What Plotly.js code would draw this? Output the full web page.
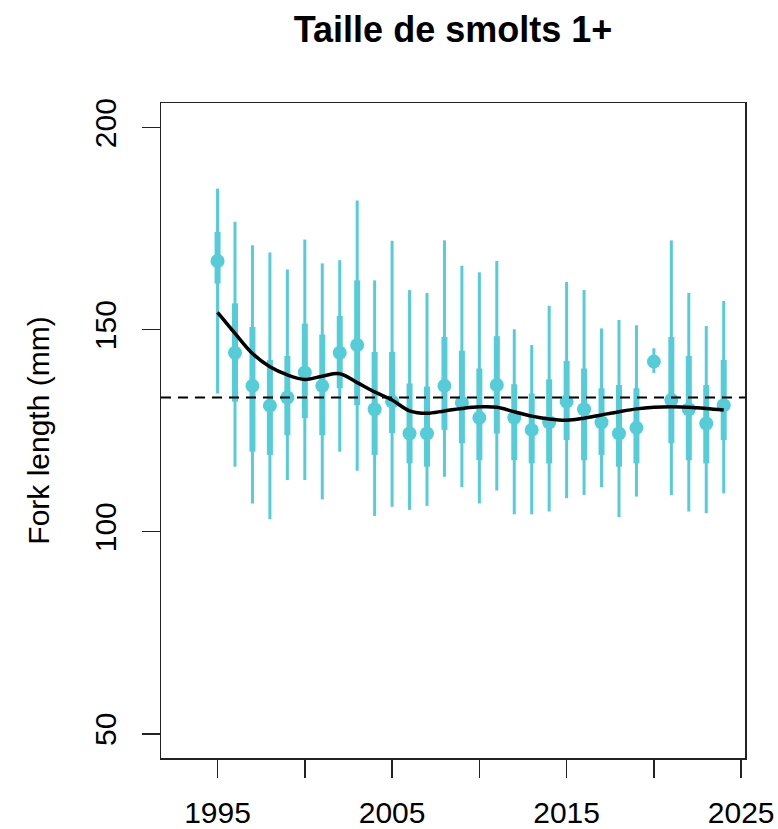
<!DOCTYPE html>
<html>
<head>
<meta charset="utf-8">
<script src="https://cdn.plot.ly/plotly-3.0.1.min.js"></script>
<style>html,body{margin:0;padding:0;background:#fff;}#chart{width:778px;height:829px;}</style>
</head>
<body>
<div id="chart"></div>
<script>
// Data
const years = [1995,1996,1997,1998,1999,2000,2001,2002,2003,2004,2005,2006,2007,2008,2009,2010,2011,2012,2013,2014,2015,2016,2017,2018,2019,2020,2021,2022,2023,2024];
const median = [167.0,144.3,136.1,131.2,133.2,139.4,136.1,144.3,146.2,130.3,132.2,124.3,124.3,136.1,131.9,128.2,136.3,128.2,125.2,127.1,132.2,130.3,127.1,124.3,125.7,142.1,132.6,130.3,126.8,131.3];
const innerHigh = [174.2,156.5,150.7,142.5,143.5,151.5,148.8,153.4,162.2,144.5,144.5,136.7,135.9,148.2,144.8,140.4,148.4,136.5,134.2,137.7,142.3,140.4,135.5,136.3,135.5,142.1,148.2,143.5,136.3,142.5];
const innerLow = [161.4,132.2,119.8,119.0,123.9,128.1,123.9,135.5,131.3,119.0,124.4,116.9,116.1,125.2,121.9,117.7,124.3,117.7,116.9,116.9,122.7,117.7,119.0,116.1,116.9,142.1,121.9,117.7,116.9,122.7];
const outerHigh = [184.9,176.7,170.9,169.1,164.9,172.3,166.4,167.2,182.0,162.2,172.0,159.8,159.1,172.1,165.8,164.2,167.0,150.1,146.2,155.9,161.8,159.8,150.3,152.4,151.1,145.4,172.1,159.1,150.9,157.1];
const outerLow = [134.2,116.1,107.0,103.1,112.8,112.8,108.0,119.8,115.1,103.9,106.2,105.4,106.4,113.6,111.0,107.0,110.2,104.3,104.3,105.0,108.3,109.1,111.0,103.6,108.7,139.3,109.1,105.0,104.6,109.5];
const trend = [154.3,149.1,144.1,140.8,138.8,137.7,138.5,139.1,136.9,134.6,132.6,129.9,129.3,129.9,130.5,130.9,130.8,129.7,128.6,127.9,127.6,128.1,128.9,129.7,130.4,130.8,130.9,130.8,130.5,130.1];
const meanLength = 133.2;
const xTickVals = [1995,2000,2005,2010,2015,2020,2025];
const xTickText = ['1995','','2005','','2015','','2025'];
const yTickVals = [50,100,150,200];

const teal = '#55cdd8';
const fontFam = '"Liberation Sans", Arial, Helvetica, sans-serif';

const traces = [
  {
    x: years, y: median, type: 'scatter', mode: 'markers',
    marker: {size: 1, opacity: 0, color: teal},
    error_y: {type: 'data', symmetric: false,
      array: outerHigh.map((v,i)=>v-median[i]),
      arrayminus: median.map((v,i)=>v-outerLow[i]),
      color: teal, thickness: 3, width: 0},
    hoverinfo: 'skip', showlegend: false
  },
  {
    x: years, y: median, type: 'scatter', mode: 'markers',
    marker: {size: 14, color: teal},
    error_y: {type: 'data', symmetric: false,
      array: innerHigh.map((v,i)=>v-median[i]),
      arrayminus: median.map((v,i)=>v-innerLow[i]),
      color: teal, thickness: 6, width: 0},
    showlegend: false
  },
  {
    x: years, y: trend, type: 'scatter', mode: 'lines',
    line: {color: '#000', width: 3.5, shape: 'spline', smoothing: 1},
    showlegend: false
  }
];

const layout = {
  width: 778, height: 829,
  margin: {l: 161, r: 33, t: 103, b: 71},
  paper_bgcolor: '#fff', plot_bgcolor: '#fff',
  font: {family: fontFam, color: '#000', size: 30},
  title: {text: '<b>Taille de smolts 1+</b>', font: {size: 36, family: fontFam, color: '#000'},
          x: 0.5, xref: 'paper', xanchor: 'center', y: 1 - 29/829, yref: 'container', yanchor: 'middle'},
  xaxis: {
    range: [1991.76, 2025.22], tickvals: xTickVals, ticktext: xTickText,
    ticks: 'outside', ticklen: 18, tickwidth: 1.5, tickcolor: '#222',
    showline: true, mirror: true, linecolor: '#222', linewidth: 1.5,
    showgrid: false, zeroline: false, tickfont: {size: 30, family: fontFam},
    ticklabelstandoff: 9
  },
  yaxis: {
    range: [44, 206.1], tickvals: yTickVals,
    ticks: 'outside', ticklen: 18, tickwidth: 1.5, tickcolor: '#222',
    showline: true, mirror: true, linecolor: '#222', linewidth: 1.5,
    showgrid: false, zeroline: false, tickangle: -90, tickfont: {size: 30, family: fontFam},
    ticklabelstandoff: 14,
    title: {text: 'Fork length (mm)', font: {size: 30, family: fontFam}, standoff: 30}
  },
  shapes: [{
    type: 'line', xref: 'paper', x0: 0, x1: 1, yref: 'y', y0: meanLength, y1: meanLength,
    line: {color: '#000', width: 2, dash: '10px,7px'}, layer: 'above'
  }]
};

Plotly.newPlot('chart', traces, layout, {displayModeBar: false, staticPlot: true});
</script>
</body>
</html>
